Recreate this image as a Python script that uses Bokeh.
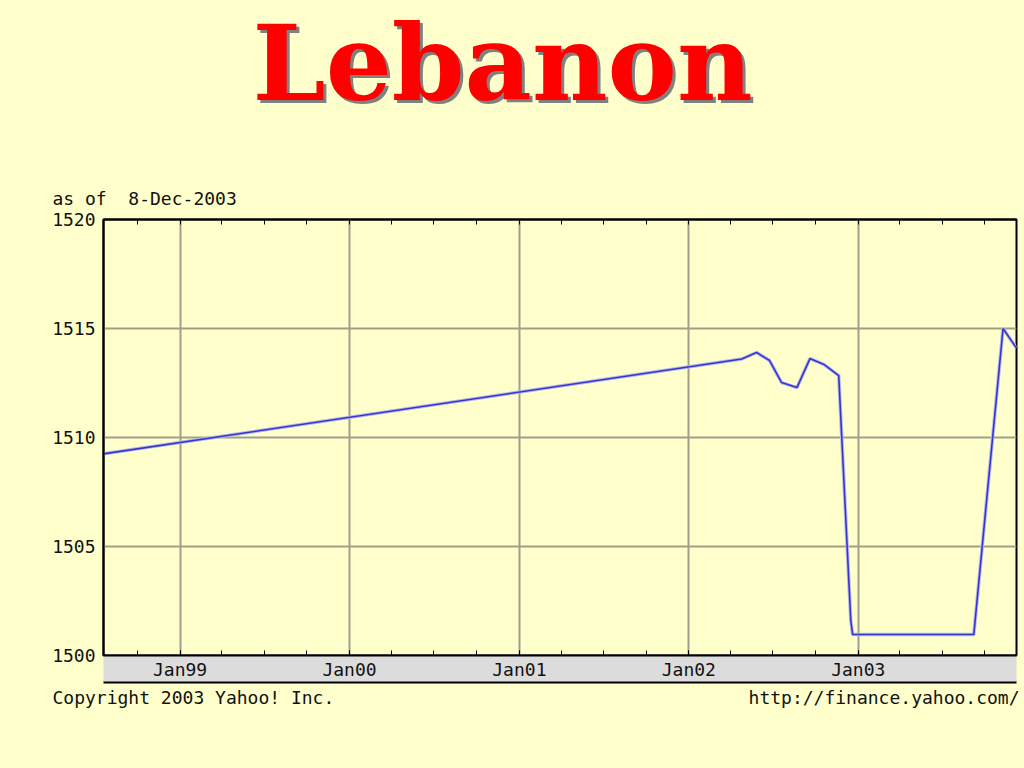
import pandas as pd
from bokeh.plotting import figure
from bokeh.layouts import column
from bokeh.models import FixedTicker, DatetimeTickFormatter, LinearAxis, Range1d
from bokeh.core.properties import value
from bokeh.embed import file_html
from bokeh.resources import INLINE

# ---- texts ----
title_text = "Lebanon"
as_of_text = "as of\u00a0 8-Dec-2003"
copyright_text = "Copyright 2003 Yahoo! Inc."
url_text = "http://finance.yahoo.com/"

# ---- data ----
dates = ["1998-07-20", "2002-04-25", "2002-05-27", "2002-06-24", "2002-07-20",
         "2002-08-22", "2002-09-19", "2002-10-19", "2002-11-20", "2002-12-16",
         "2002-12-20", "2003-09-07", "2003-11-09", "2003-12-08"]
values = [1509.25, 1513.6, 1513.9, 1513.53, 1512.52,
          1512.29, 1513.62, 1513.35, 1512.84, 1501.6,
          1500.96, 1500.96, 1515.0, 1514.1]

year_ticks = ["1999-01-01", "2000-01-01", "2001-01-01", "2002-01-01", "2003-01-01"]
y_ticks = [1500, 1505, 1510, 1515, 1520]
x_start, x_end = "1998-07-20", "2003-12-08"
y_start, y_end = 1500, 1520

BG = "#FFFFCC"
GRID = "#A29E8A"
MONO = "DejaVu Sans Mono"
TXT = "#111111"
W = 1020
TOP_H = 209


def to_ms(lst):
    return [int(t.value // 10**6) for t in pd.to_datetime(lst)]


year_ms = to_ms(year_ticks)
quarter_ms = to_ms(list(pd.date_range("1998-10-01", "2003-10-01", freq="QS")))


def no_align(f):
    try:
        f.frame_align = False
    except Exception:
        pass


def text_panel(h):
    f = figure(width=W, height=h, x_range=Range1d(0, W), y_range=Range1d(h, 0),
               output_backend="svg", toolbar_location=None,
               min_border_left=0, min_border_right=0, min_border_top=0, min_border_bottom=0)
    f.axis.visible = False
    f.grid.visible = False
    f.outline_line_color = None
    f.background_fill_color = BG
    f.border_fill_color = BG
    no_align(f)
    return f


# ---- top panel: title + "as of" ----
top = text_panel(TOP_H)
top.text(x=[505], y=[4], text=[title_text], text_font=value("DejaVu Serif"),
         text_font_style="bold", text_font_size=value("104px"), text_color="#808080",
         text_align="center", text_baseline="top")
top.text(x=[502], y=[1], text=[title_text], text_font=value("DejaVu Serif"),
         text_font_style="bold", text_font_size=value("104px"), text_color="#FF0000",
         text_align="center", text_baseline="top")
top.text(x=[52], y=[197.5], text=[as_of_text], text_font=value(MONO),
         text_font_size=value("18px"), text_color=TXT, text_align="left", text_baseline="middle")

# ---- main chart ----
p = figure(width=W, height=476, x_axis_type="datetime",
           x_range=Range1d(start=pd.Timestamp(x_start), end=pd.Timestamp(x_end)),
           y_range=Range1d(start=y_start, end=y_end),
           output_backend="svg", toolbar_location=None,
           min_border_left=103, min_border_right=4, min_border_top=10, min_border_bottom=30)
no_align(p)

p.background_fill_color = BG
p.border_fill_color = BG
p.outline_line_color = "black"
p.outline_line_width = 2

xa = p.xaxis[0]
xa.ticker = FixedTicker(ticks=year_ms, minor_ticks=quarter_ms)
fmt = "%b%y"
xa.formatter = DatetimeTickFormatter(years=fmt, months=fmt, days=fmt, hours=fmt,
                                     hourmin=fmt, minutes=fmt, minsec=fmt, seconds=fmt,
                                     milliseconds=fmt, microseconds=fmt)
xa.major_label_text_font = MONO
xa.major_label_text_font_size = "18px"
xa.major_label_text_color = TXT
xa.major_label_standoff = 3
xa.major_tick_in = 5
xa.major_tick_out = 0
xa.minor_tick_in = 5
xa.minor_tick_out = 0
xa.major_tick_line_color = "black"
xa.minor_tick_line_color = "black"
xa.axis_line_color = "black"
xa.axis_line_width = 2
try:
    xa.background_fill_color = "#DCDCDC"
except Exception:
    pass

# line under the grey band
ax2 = LinearAxis(ticker=FixedTicker(ticks=[]), axis_line_color="black", axis_line_width=2,
                 major_tick_in=0, major_tick_out=0, minor_tick_in=0, minor_tick_out=0)
p.add_layout(ax2, "below")

# top axis: quarter ticks pointing in
ax3 = LinearAxis(ticker=FixedTicker(ticks=[], minor_ticks=quarter_ms),
                 axis_line_color="black", axis_line_width=2,
                 major_tick_in=0, major_tick_out=0, minor_tick_in=5, minor_tick_out=0,
                 minor_tick_line_color="black")
p.add_layout(ax3, "above")

ya = p.yaxis[0]
ya.ticker = FixedTicker(ticks=y_ticks)
ya.major_label_text_font = MONO
ya.major_label_text_font_size = "18px"
ya.major_label_text_color = TXT
ya.major_label_standoff = 8
ya.major_tick_in = 0
ya.major_tick_out = 0
ya.minor_tick_in = 0
ya.minor_tick_out = 0
ya.axis_line_color = "black"
ya.axis_line_width = 2

p.xgrid.ticker = FixedTicker(ticks=year_ms)
p.ygrid.ticker = FixedTicker(ticks=y_ticks)
for g in (p.xgrid, p.ygrid):
    g.grid_line_color = GRID
    g.grid_line_width = 2

x_dates = pd.to_datetime(dates)
p.line(x=x_dates, y=values, line_color="#B8B8F0", line_width=3.5)
p.line(x=x_dates, y=values, line_color="#3636CC", line_width=1.6)

# ---- bottom panel: copyright + url ----
bot = text_panel(83)
bot.text(x=[52], y=[12], text=[copyright_text], text_font=value(MONO),
         text_font_size=value("18px"), text_color=TXT, text_align="left", text_baseline="middle")
bot.text(x=[1019], y=[12], text=[url_text], text_font=value(MONO),
         text_font_size=value("18px"), text_color=TXT, text_align="right", text_baseline="middle")

layout = column(top, p, bot, spacing=0)
layout.background = BG

html = file_html(layout, INLINE)
html = html.replace("<head>", "<head><style>html,body{background-color:#FFFFCC;}</style>", 1)
open("out.html", "w").write(html)
